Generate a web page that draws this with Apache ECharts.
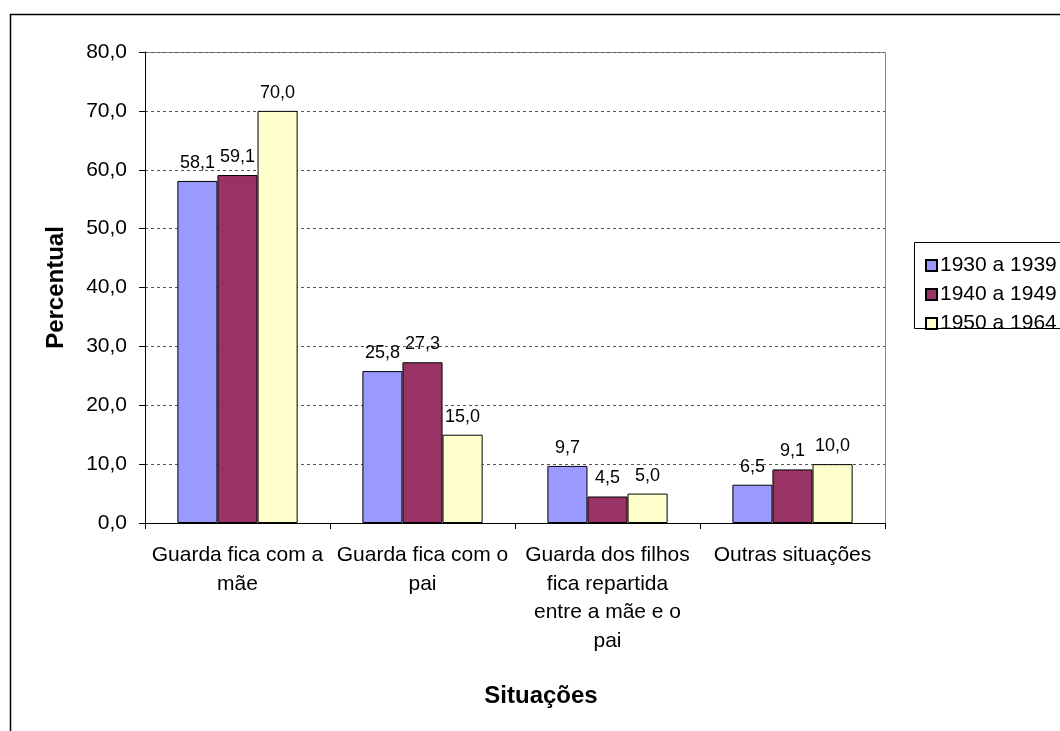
<!DOCTYPE html>
<html>
<head>
<meta charset="utf-8">
<title>Situações</title>
<script src="https://cdn.jsdelivr.net/npm/echarts@6/dist/echarts.min.js"></script>
<style>
  html, body { margin: 0; padding: 0; background: #fff; }
  #chart { width: 1060px; height: 731px; }
</style>
</head>
<body>
<div id="chart"></div>
<script>
// categorias (quebras de linha como no original)
const categorias = [
  'Guarda fica com a\nmãe',
  'Guarda fica com o\npai',
  'Guarda dos filhos\nfica repartida\nentre a mãe e o\npai',
  'Outras situações'
];
const periodos = ['1930 a 1939', '1940 a 1949', '1950 a 1964'];
const v1930 = [58.1, 25.8, 9.7, 6.5];
const v1940 = [59.1, 27.3, 4.5, 9.1];
const v1950 = [70.0, 15.0, 5.0, 10.0];
const cores = ['#9999FF', '#993366', '#FFFFCC'];

const chart = echarts.init(document.getElementById('chart'), null, { renderer: 'canvas' });

const fonte = 'Arial, Liberation Sans';
const fmt = v => v.toFixed(1).replace('.', ',');

function serie(nome, dados, cor) {
  return {
    name: nome,
    type: 'bar',
    data: dados,
    barGap: '0%',
    barCategoryGap: '35%',
    itemStyle: { color: cor, borderColor: '#000', borderWidth: 1 },
    label: {
      show: true,
      position: 'top',
      distance: 9,
      color: '#000',
      fontFamily: fonte,
      fontSize: 18,
      formatter: p => fmt(p.value)
    }
  };
}

chart.setOption({
  animation: false,
  backgroundColor: '#fff',
  textStyle: { fontFamily: fonte },
  graphic: [
    {
      type: 'rect',
      shape: { x: 10.5, y: 14.5, width: 1100, height: 800 },
      style: { fill: 'none', stroke: '#000', lineWidth: 1.5 },
      silent: true, z: -1
    },
    {
      type: 'rect',
      shape: { x: 914.5, y: 242.5, width: 200, height: 86 },
      style: { fill: 'none', stroke: '#000', lineWidth: 1 },
      silent: true
    },
    {
      type: 'rect',
      shape: { x: 145.5, y: 52.5, width: 740, height: 471 },
      style: { fill: 'none', stroke: '#888', lineWidth: 1 },
      silent: true, z: -1
    }
  ],
  legend: {
    orient: 'vertical',
    left: 920,
    top: 250,
    itemWidth: 11,
    itemHeight: 11,
    itemGap: 8,
    icon: 'rect',
    textStyle: { fontSize: 21, lineHeight: 21, color: '#000', fontFamily: fonte, padding: [0, 0, 0, -2] },
    data: periodos
  },
  grid: { left: 145, right: 175, top: 52, bottom: 208 },
  xAxis: {
    type: 'category',
    data: categorias,
    name: 'Situações',
    nameLocation: 'middle',
    nameGap: 161,
    nameTextStyle: { fontSize: 24, fontWeight: 'bold', color: '#000', padding: [0, 0, 0, 52] },
    axisLine: { lineStyle: { color: '#000', width: 1 } },
    axisTick: { show: true, length: 6, lineStyle: { color: '#000' } },
    axisLabel: {
      color: '#000',
      fontSize: 21,
      lineHeight: 28.5,
      margin: 18,
      interval: 0
    }
  },
  yAxis: {
    type: 'value',
    min: 0,
    max: 80,
    interval: 10,
    name: 'Percentual',
    nameLocation: 'middle',
    nameGap: 77,
    nameRotate: 90,
    nameTextStyle: { fontSize: 24, fontWeight: 'bold', color: '#000' },
    axisLine: { show: true, lineStyle: { color: '#000', width: 1 } },
    axisTick: { show: true, length: 6, lineStyle: { color: '#000' } },
    axisLabel: {
      color: '#000',
      fontSize: 21,
      margin: 18,
      formatter: v => fmt(v)
    },
    splitLine: { show: true, lineStyle: { color: '#555', type: [3, 3], width: 1 } }
  },
  series: [
    serie(periodos[0], v1930, cores[0]),
    serie(periodos[1], v1940, cores[1]),
    serie(periodos[2], v1950, cores[2])
  ]
});
</script>
</body>
</html>
